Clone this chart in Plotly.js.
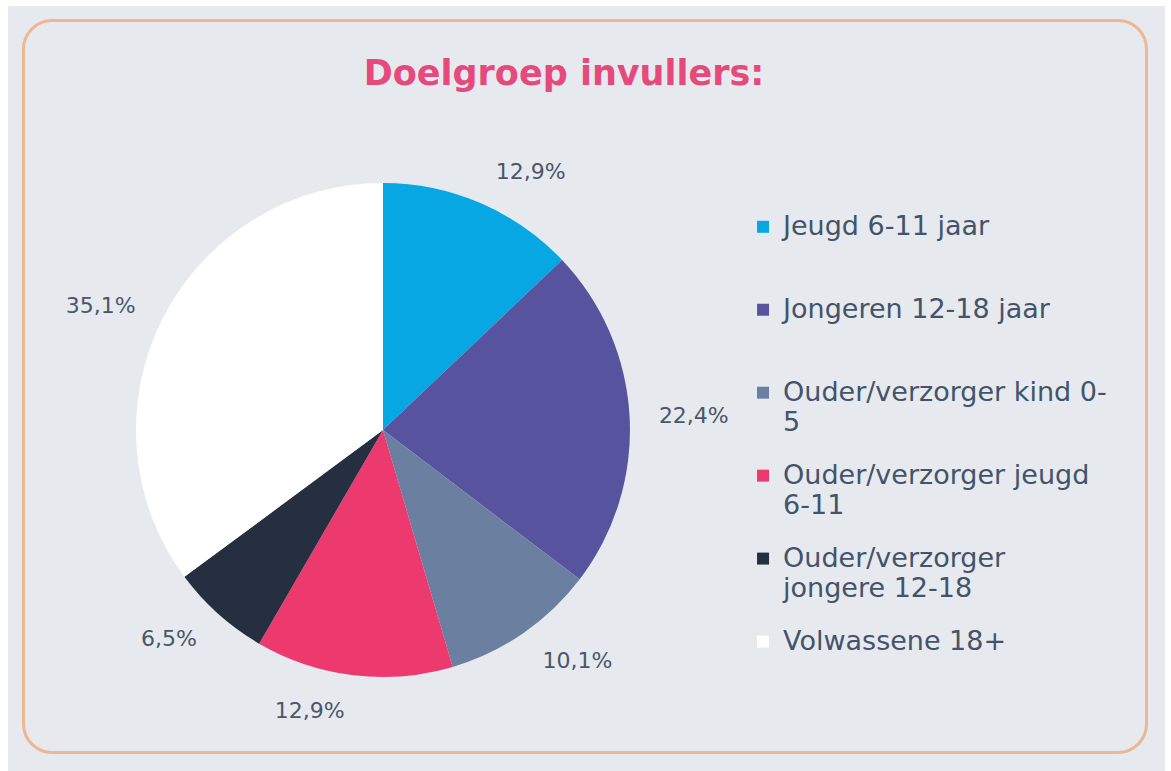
<!DOCTYPE html>
<html>
<head>
<meta charset="utf-8">
<script src="https://cdn.plot.ly/plotly-3.0.1.min.js"></script>
<style>
  html, body { margin: 0; padding: 0; background: #ffffff; width: 1171px; height: 771px; overflow: hidden; }
  #bg { position: absolute; left: 8px; top: 6px; width: 1157px; height: 765px; background: #e6eaee; }
  #frame { position: absolute; left: 22px; top: 19px; width: 1126px; height: 735px; box-sizing: border-box;
           border: 3px solid #eeb794; border-radius: 30px; pointer-events: none; }
  #chart { position: absolute; left: 8px; top: 6px; width: 1157px; height: 765px; }
</style>
</head>
<body>
<div id="bg"></div>
<div id="frame"></div>
<div id="chart"></div>
<script>
// ---- data ----
const categories = [
  'Jeugd 6-11 jaar',
  'Jongeren 12-18 jaar',
  'Ouder/verzorger kind 0-5',
  'Ouder/verzorger jeugd 6-11',
  'Ouder/verzorger jongere 12-18',
  'Volwassene 18+'
];
const legendLines = [
  ['Jeugd 6-11 jaar'],
  ['Jongeren 12-18 jaar'],
  ['Ouder/verzorger kind 0-', '5'],
  ['Ouder/verzorger jeugd', '6-11'],
  ['Ouder/verzorger', 'jongere 12-18'],
  ['Volwassene 18+']
];
const values = [12.9, 22.4, 10.1, 12.9, 6.5, 35.1];
const colors = ['#06a7e2', '#57539f', '#6b7fa0', '#ec3a6f', '#262f40', '#ffffff'];
const titleText = 'Doelgroep invullers:';

// ---- build legend labels (each entry padded to 3 lines for even spacing) ----
const legendLabels = legendLines.map(lines => {
  const parts = lines.map((l, i) =>
    '<span style="font-size:27px' + (i > 0 ? ';baseline-shift:-3.5px' : '') + '">' + l + '</span>');
  while (parts.length < 3) parts.push('&nbsp;');
  return parts.join('<br>');
});

// visible pie (slices + legend)
const pieTrace = {
  type: 'pie',
  labels: legendLabels,
  values: values,
  customdata: categories,
  sort: false,
  direction: 'clockwise',
  rotation: 0,
  marker: { colors: colors, line: { width: 0 } },
  textinfo: 'none',
  hovertemplate: '%{customdata}: %{percent:.1%}<extra></extra>',
  domain: { x: [0.1106, 0.5376], y: [0.1229, 0.7686] },
  showlegend: true
};

// transparent, slightly larger pie carrying the outside percentage labels
const labelTrace = {
  type: 'pie',
  labels: legendLabels,
  values: values,
  sort: false,
  direction: 'clockwise',
  rotation: 0,
  marker: { colors: values.map(() => 'rgba(0,0,0,0)'), line: { width: 0 } },
  texttemplate: '%{percent:.1%}',
  textposition: 'outside',
  outsidetextfont: { family: 'DejaVu Sans', size: 22, color: '#4b5669' },
  hoverinfo: 'skip',
  domain: { x: [0.0908, 0.5575], y: [0.0928, 0.7987] },
  showlegend: false
};

const layout = {
  width: 1157,
  height: 765,
  margin: { l: 0, r: 0, t: 0, b: 0 },
  paper_bgcolor: 'rgba(0,0,0,0)',
  plot_bgcolor: 'rgba(0,0,0,0)',
  separators: ', ',
  title: {
    text: '<b>' + titleText + '</b>',
    font: { family: 'DejaVu Sans', size: 35, color: '#e6497c' },
    x: 0.4806, xanchor: 'center',
    y: 0.9124, yanchor: 'middle',
    xref: 'paper', yref: 'container'
  },
  legend: {
    x: 0.6353, xanchor: 'left',
    y: 0.7373, yanchor: 'top',
    valign: 'top',
    font: { family: 'DejaVu Sans', size: 20.5, color: '#44536a' },
    bgcolor: 'rgba(0,0,0,0)',
    borderwidth: 0,
    traceorder: 'normal'
  },
  showlegend: true
};

Plotly.newPlot('chart', [labelTrace, pieTrace], layout, { displayModeBar: false, staticPlot: true });
</script>
</body>
</html>
